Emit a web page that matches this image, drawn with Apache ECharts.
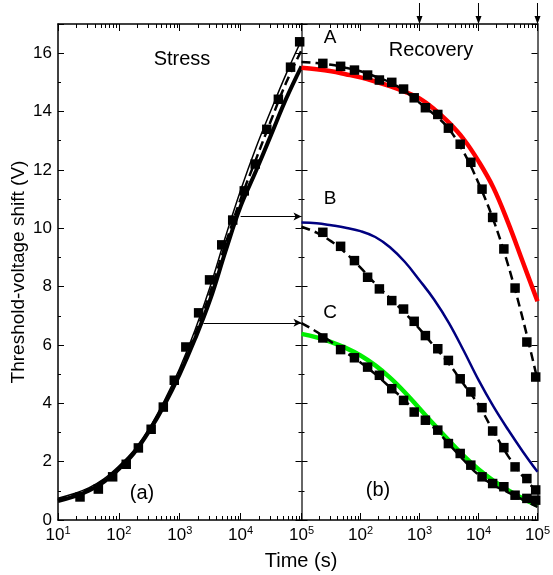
<!DOCTYPE html>
<html>
<head>
<meta charset="utf-8">
<script src="https://cdn.jsdelivr.net/npm/echarts@6/dist/echarts.min.js"></script>
<style>
    html, body { margin: 0; background: #fff; }
    #chart { width: 553px; height: 575px; }
</style>
</head>
<body>
<div id="chart"></div>
<script>
// 测量点时间 (s)
const squareTimes = [23, 46, 79, 132, 209, 339, 537, 813, 1259, 2042, 3090, 4898, 7413, 11482, 17378, 26915, 41687, 66069, 93325]
// 拟合曲线时间 (s)
const curveTimes = [10, 18, 32, 56, 100, 178, 316, 562, 1000, 1778, 3162, 5623, 10000, 17783, 31623, 56234, 100000]

// (a) Stress
const stressSquares = [0.79, 1.06, 1.48, 1.91, 2.47, 3.11, 3.87, 4.79, 5.93, 7.1, 8.23, 9.43, 10.28, 11.28, 12.2, 13.39, 14.42, 15.52, 16.39]
const stressThin = [0.75, 0.9, 1.1, 1.4, 1.85, 2.4, 3.15, 4.1, 5.2, 6.5, 8.0, 9.7, 11.3, 12.75, 14.05, 15.3, 16.45]
const stressDash = [0.7, 0.85, 1.05, 1.35, 1.8, 2.35, 3.1, 4.0, 5.1, 6.35, 7.8, 9.45, 11.0, 12.35, 13.7, 15.0, 16.1]
const stressThick = [0.65, 0.8, 1.0, 1.3, 1.75, 2.3, 3.05, 3.95, 5.0, 6.2, 7.55, 9.2, 10.75, 11.95, 13.2, 14.45, 15.55]

// (b) Recovery
const recA = [15.65, 15.55, 15.42, 15.25, 15.08, 15.0, 14.77, 14.47, 14.13, 13.9, 13.43, 12.88, 12.26, 11.34, 10.37, 9.29, 7.95, 6.1, 4.9]
const recB = [9.86, 9.38, 8.89, 8.32, 7.92, 7.52, 7.23, 6.81, 6.32, 5.87, 5.47, 4.84, 4.39, 3.85, 3.05, 2.48, 1.82, 1.42, 1.03]
const recC = [6.24, 5.84, 5.56, 5.24, 4.96, 4.5, 4.1, 3.7, 3.42, 3.08, 2.62, 2.28, 1.88, 1.48, 1.25, 1.14, 0.85, 0.74, 0.68]
const fitA = [15.5, 15.45, 15.38, 15.28, 15.17, 15.03, 14.87, 14.68, 14.45, 14.08, 13.62, 13.05, 12.3, 11.4, 10.2, 8.85, 7.5]
const fitB = [10.2, 10.17, 10.1, 10.02, 9.9, 9.7, 9.35, 8.85, 8.22, 7.55, 6.75, 5.8, 4.8, 3.9, 3.1, 2.35, 1.65]
const fitC = [6.38, 6.26, 6.1, 5.9, 5.64, 5.3, 4.88, 4.38, 3.82, 3.26, 2.72, 2.2, 1.74, 1.35, 1.02, 0.74, 0.5]
const dashA = [15.7, 15.66, 15.6, 15.5, 15.38, 15.2, 15.0, 14.7, 14.3, 13.9, 13.4, 12.6, 11.55, 10.3, 8.75, 6.9, 4.8]
const dashB = [10.05, 9.85, 9.55, 9.15, 8.65, 8.1, 7.6, 7.1, 6.55, 5.95, 5.35, 4.65, 3.95, 3.05, 2.2, 1.5, 0.95]
const dashC = [6.75, 6.45, 6.1, 5.75, 5.4, 5.0, 4.55, 4.1, 3.55, 3.15, 2.6, 2.05, 1.55, 1.2, 0.95, 0.7, 0.45]

// 箭头
const shiftArrows = [[10000, 10.4], [2450, 6.76]]
const topArrowTimes = [1000, 10000, 100000]

// 对数副刻度 2..9 × 10^k
const minorTicks = []
for (let k = 1; k < 5; k++) {
    for (let m = 2; m < 10; m++) minorTicks.push(m * Math.pow(10, k))
}

const FONT = 'Liberation Sans, Arial, sans-serif'
const YMAX = 17

const pair = (xs, ys) => ys.map((y, i) => [xs[i], y])

/* 对数轴 */
function logAxis(gridIndex, opts) {
    return Object.assign({
        type: 'log',
        gridIndex: gridIndex,
        min: 10,
        max: 100000,
        logBase: 10,
        axisLine: { onZero: false, lineStyle: { color: '#000', width: 1.5 } },
        axisTick: { inside: true, length: 7, lineStyle: { color: '#000' } },
        splitLine: { show: false },
        axisLabel: { show: false },
    }, opts)
}

/* 数值轴 */
function valAxis(gridIndex, opts) {
    return Object.assign({
        type: 'value',
        gridIndex: gridIndex,
        min: 0,
        max: YMAX,
        interval: 2,
        axisLine: { show: true, lineStyle: { color: '#666', width: 2 } },
        axisTick: { inside: true, length: 6, lineStyle: { color: '#000' } },
        minorTick: { show: true, splitNumber: 2, length: 3, lineStyle: { color: '#000' } },
        splitLine: { show: false },
        axisLabel: { show: false },
    }, opts)
}

const supLabel = {
    show: true,
    margin: 5,
    formatter: (v) => '{b|10}{s|' + Math.round(Math.log10(v)) + '}',
    rich: {
        b: { fontSize: 17, fontFamily: FONT, color: '#000' },
        s: { fontSize: 11, fontFamily: FONT, color: '#000', padding: [0, 0, 9, 0] },
    },
}

function line(xi, data, width, color, dashed, z) {
    return {
        type: 'line',
        xAxisIndex: xi,
        yAxisIndex: xi,
        data: data,
        smooth: 0.4,
        symbol: 'none',
        z: z,
        lineStyle: { width: width, color: color, type: dashed ? [9, 5] : 'solid' },
    }
}

function squares(xi, data) {
    return {
        type: 'scatter',
        xAxisIndex: xi,
        yAxisIndex: xi,
        data: data,
        symbol: 'rect',
        symbolSize: 9.5,
        z: 3,
        itemStyle: { color: '#000', opacity: 1 },
    }
}

/* 副刻度（上下边框） */
function minorTickSeries(xi) {
    return {
        type: 'custom',
        xAxisIndex: xi,
        yAxisIndex: xi,
        silent: true,
        z: 5,
        data: minorTicks.map((t) => [t]),
        renderItem(params, api) {
            const b = api.coord([api.value(0), 0])
            const t = api.coord([api.value(0), YMAX])
            const x = Math.round(b[0]) + 0.5
            const style = { stroke: '#000', lineWidth: 1 }
            return {
                type: 'group',
                children: [
                    { type: 'line', shape: { x1: x, y1: b[1], x2: x, y2: b[1] - 4 }, style },
                    { type: 'line', shape: { x1: x, y1: t[1], x2: x, y2: t[1] + 4 }, style },
                ],
            }
        },
    }
}

/* 顶部向下箭头 */
const topArrowSeries = {
    type: 'custom',
    xAxisIndex: 1,
    yAxisIndex: 1,
    silent: true,
    clip: false,
    z: 6,
    data: topArrowTimes.map((t) => [t]),
    renderItem(params, api) {
        const p = api.coord([api.value(0), YMAX])
        return {
            type: 'group',
            children: [
                { type: 'line', shape: { x1: p[0], y1: p[1] - 21, x2: p[0], y2: p[1] - 4 }, style: { stroke: '#000', lineWidth: 1 } },
                { type: 'polygon', shape: { points: [[p[0] - 3, p[1] - 8], [p[0] + 3, p[1] - 8], [p[0], p[1]]] }, style: { fill: '#000' } },
            ],
        }
    },
}

const text = (x, y, str, size) => ({
    type: 'text',
    x: x,
    y: y,
    style: { text: str, font: size + 'px ' + FONT, fill: '#000', align: 'center', verticalAlign: 'middle' },
})

const myChart = echarts.init(document.getElementById('chart'), null, { renderer: 'canvas' })

myChart.setOption({
    animation: false,
    backgroundColor: '#fff',
    grid: [
        { left: 58, right: 251.5, top: 24, bottom: 55 },
        { left: 301.5, right: 8, top: 24, bottom: 55 },
    ],
    xAxis: [
        logAxis(0, { position: 'bottom', axisLabel: supLabel }),
        logAxis(1, { position: 'bottom', axisLabel: Object.assign({}, supLabel, { showMinLabel: false }) }),
        logAxis(0, { position: 'top' }),
        logAxis(1, { position: 'top' }),
    ],
    yAxis: [
        valAxis(0, {
            position: 'left',
            axisLine: { show: true, lineStyle: { color: '#000', width: 1.5 } },
            axisLabel: { show: true, showMaxLabel: false, fontSize: 17, fontFamily: FONT, color: '#000', margin: 6 },
            name: 'Threshold-voltage shift (V)',
            nameLocation: 'middle',
            nameGap: 30,
            nameTextStyle: { fontSize: 19, fontFamily: FONT, color: '#000' },
        }),
        valAxis(1, { position: 'left' }),
        valAxis(0, { position: 'right' }),
        valAxis(1, { position: 'right' }),
    ],
    series: [
        line(0, pair(curveTimes, stressThin), 1.5, '#000', false, 2),
        line(0, pair(curveTimes, stressThick), 4, '#000', false, 2),
        squares(0, pair(squareTimes, stressSquares)),
        line(0, pair(curveTimes, stressDash), 2.5, '#000', true, 4),

        line(1, pair(curveTimes, fitA), 4.5, '#ff0000', false, 2),
        line(1, pair(curveTimes, fitB), 2.5, '#000080', false, 2),
        line(1, pair(curveTimes, fitC), 4.5, '#00ee00', false, 2),
        squares(1, pair(squareTimes, recA)),
        squares(1, pair(squareTimes, recB)),
        squares(1, pair(squareTimes, recC)),
        line(1, pair(curveTimes, dashA), 2.5, '#000', true, 4),
        line(1, pair(curveTimes, dashB), 2.5, '#000', true, 4),
        line(1, pair(curveTimes, dashC), 2.5, '#000', true, 4),

        minorTickSeries(0),
        minorTickSeries(1),
        topArrowSeries,

        // 横向箭头
        {
            type: 'line',
            xAxisIndex: 0,
            yAxisIndex: 0,
            data: [],
            markLine: {
                silent: true,
                symbol: ['none', 'arrow'],
                symbolSize: [6, 8],
                label: { show: false },
                lineStyle: { color: '#000', width: 1, type: 'solid' },
                data: shiftArrows.map((p) => [{ coord: p }, { coord: [100000, p[1]] }]),
            },
        },
    ],
    graphic: [
        text(182, 59, 'Stress', 20),
        text(431, 50, 'Recovery', 20),
        text(330, 38, 'A', 19),
        text(330, 199, 'B', 19),
        text(330, 313, 'C', 19),
        text(142, 493, '(a)', 20),
        text(378, 490, '(b)', 20),
        text(301, 561, 'Time (s)', 20),
    ],
})
</script>
</body>
</html>
